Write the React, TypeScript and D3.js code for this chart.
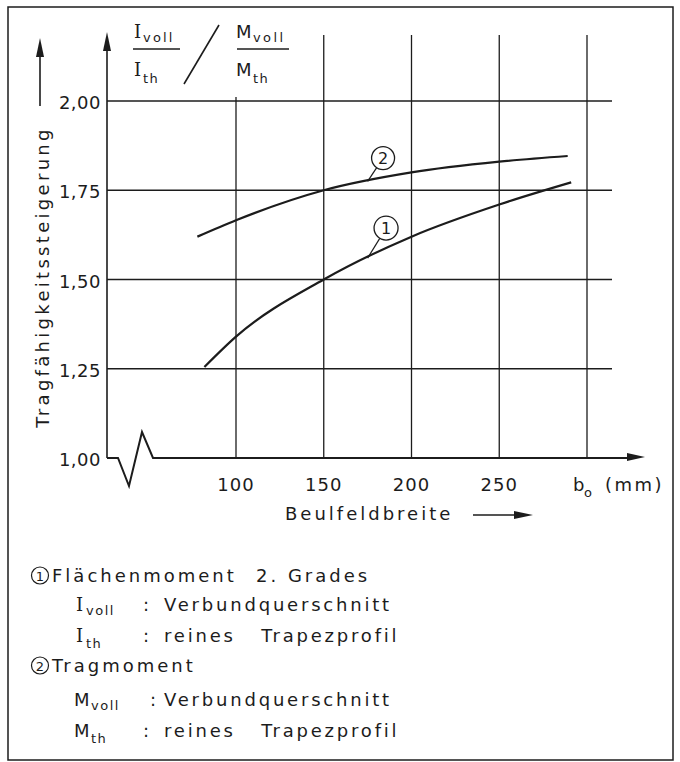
import React from "react";
import * as d3 from "d3";

// ---- data ----
const xTickValues = [100, 150, 200, 250];
const xTickLabels = ["100", "150", "200", "250"];
const xGridValues = [100, 150, 200, 250, 300];
const yTickValues = [1.0, 1.25, 1.5, 1.75, 2.0];
const yTickLabels = ["1,00", "1,25", "1,50", "1,75", "2,00"];
const yGridValues = [1.25, 1.5, 1.75, 2.0];

// curve 1: Flächenmoment 2. Grades (I_voll / I_th)
const curve1Bo = [82, 100, 150, 200, 250, 291];
const curve1Val = [1.255, 1.34, 1.5, 1.62, 1.71, 1.772];
// curve 2: Tragmoment (M_voll / M_th)
const curve2Bo = [78, 100, 150, 200, 250, 289];
const curve2Val = [1.62, 1.666, 1.75, 1.8, 1.83, 1.846];

const seriesNames = ["1", "2"];
const legendTitles = ["Flächenmoment", "Tragmoment"];
const legendSymbols = ["I", "M"];
const legendSubs = ["voll", "th"];
const legendDescs = ["Verbundquerschnitt", "reines   Trapezprofil"];

const FONT = "'DejaVu Sans', sans-serif";
const SERIF = "'DejaVu Serif', serif";
const INK = "#1c1c1c";

function interp(bo: number[], val: number[], b: number) {
  return d3.scaleLinear().domain(bo).range(val).clamp(true)(b);
}

export default function App() {
  const x = d3.scaleLinear().domain([100, 300]).range([236, 587]);
  const y = d3.scaleLinear().domain([1, 2]).range([458, 101]);
  const axisX = 107;
  const gridRight = 612;

  const line = d3
    .line<[number, number]>()
    .x((d) => x(d[0]))
    .y((d) => y(d[1]))
    .curve(d3.curveMonotoneX);

  const c1 = curve1Bo.map((b, i) => [b, curve1Val[i]] as [number, number]);
  const c2 = curve2Bo.map((b, i) => [b, curve2Val[i]] as [number, number]);

  // curve labels (circle centres in data coords, leader target on curve)
  const labels = [
    { name: seriesNames[0], cx: x(185.5), cy: y(1.644), r: 12, tb: 175, bo: curve1Bo, val: curve1Val },
    { name: seriesNames[1], cx: x(183.8), cy: y(1.84), r: 11.5, tb: 175, bo: curve2Bo, val: curve2Val },
  ];

  const y0 = y(1);
  const breakPath = `M${axisX},${y0} L118,${y0} L129,${y0 + 28} L142,${y0 - 26} L153,${y0} L630,${y0}`;

  const legendBase = [582, 611, 642, 672, 706, 737];

  return (
    <svg
      width={680}
      height={762}
      style={{ position: "absolute", left: 0, top: 0, background: "#fff" }}
      fontFamily={FONT}
      fill={INK}
    >
      <rect x={0} y={0} width={680} height={762} fill="#fff" />
      {/* frame */}
      <rect x={8} y={7} width={665} height={753} fill="none" stroke={INK} strokeWidth={1.5} />

      {/* horizontal grid */}
      {yGridValues.map((v) => (
        <line key={"h" + v} x1={axisX} x2={gridRight} y1={y(v)} y2={y(v)} stroke={INK} strokeWidth={1.3} />
      ))}
      {/* vertical grid */}
      {xGridValues.map((v, i) => (
        <line
          key={"v" + v}
          x1={x(v)}
          x2={x(v)}
          y1={i === 0 ? y(2) - 4 : 35}
          y2={y0}
          stroke={INK}
          strokeWidth={1.3}
        />
      ))}

      {/* y axis with arrow */}
      <line x1={axisX} x2={axisX} y1={y0} y2={48} stroke={INK} strokeWidth={1.6} />
      <path d={`M${axisX},32 L${axisX - 4},51 L${axisX + 4},51 Z`} fill={INK} />
      {/* x axis with break and arrow */}
      <path d={breakPath} fill="none" stroke={INK} strokeWidth={2} strokeLinejoin="miter" />
      <path d={`M645,${y0 - 1} L627,${y0 - 5} L627,${y0 + 3} Z`} fill={INK} />

      {/* y tick labels */}
      {yTickValues.map((v, i) => (
        <text key={"yl" + v} x={101} y={y(v) + 8} fontSize={18} textAnchor="end" letterSpacing={0.5}>
          {yTickLabels[i]}
        </text>
      ))}
      {/* x tick labels */}
      {xTickValues.map((v, i) => (
        <text key={"xl" + v} x={x(v)} y={491} fontSize={18} textAnchor="middle" letterSpacing={1}>
          {xTickLabels[i]}
        </text>
      ))}
      <text x={573} y={491} fontSize={18}>
        b
      </text>
      <text x={584} y={497} fontSize={13}>
        o
      </text>
      <text x={605} y={491} fontSize={18} letterSpacing={2.5}>
        (mm)
      </text>

      {/* x title */}
      <text x={285} y={520} fontSize={18} letterSpacing={3}>
        Beulfeldbreite
      </text>
      <line x1={473} x2={516} y1={515} y2={515} stroke={INK} strokeWidth={1.6} />
      <path d="M533,515 L514,511 L514,519 Z" fill={INK} />

      {/* y title */}
      <text transform="translate(49,277) rotate(-90)" fontSize={18} letterSpacing={3.3} textAnchor="middle">
        Tragfähigkeitssteigerung
      </text>
      <line x1={40} x2={40} y1={54} y2={106} stroke={INK} strokeWidth={1.6} />
      <path d="M40,38 L36,57 L44,57 Z" fill={INK} />

      {/* fraction labels */}
      <text x={134} y={38} fontSize={18} fontFamily={SERIF}>I</text>
      <text x={143} y={42} fontSize={13} letterSpacing={2.2}>voll</text>
      <line x1={133} x2={180} y1={49} y2={49} stroke={INK} strokeWidth={1.6} />
      <text x={134} y={76} fontSize={18} fontFamily={SERIF}>I</text>
      <text x={143} y={83} fontSize={13} letterSpacing={1.5}>th</text>
      <line x1={184} x2={219} y1={84} y2={25} stroke={INK} strokeWidth={1.6} />
      <text x={236} y={38} fontSize={18}>M</text>
      <text x={253} y={42} fontSize={13} letterSpacing={2.4}>voll</text>
      <line x1={237} x2={289} y1={49} y2={49} stroke={INK} strokeWidth={1.6} />
      <text x={236} y={76} fontSize={18}>M</text>
      <text x={253} y={83} fontSize={13} letterSpacing={1.5}>th</text>

      {/* curves */}
      <path d={line(c1) || ""} fill="none" stroke={INK} strokeWidth={2.2} />
      <path d={line(c2) || ""} fill="none" stroke={INK} strokeWidth={2.2} />

      {/* curve labels */}
      {labels.map((l) => {
        const tx = x(l.tb);
        const ty = y(interp(l.bo, l.val, l.tb));
        const dx = tx - l.cx;
        const dy = ty - l.cy;
        const len = Math.hypot(dx, dy);
        return (
          <g key={"lab" + l.name}>
            <circle cx={l.cx} cy={l.cy} r={l.r} fill="#fff" stroke={INK} strokeWidth={1.3} />
            <text x={l.cx} y={l.cy + 5.5} fontSize={16} textAnchor="middle">
              {l.name}
            </text>
            <line
              x1={l.cx + (dx / len) * l.r}
              y1={l.cy + (dy / len) * l.r}
              x2={tx}
              y2={ty}
              stroke={INK}
              strokeWidth={1.2}
            />
          </g>
        );
      })}

      {/* legend */}
      {[0, 1].map((k) => {
        const b0 = legendBase[k * 3];
        const b1 = legendBase[k * 3 + 1];
        const b2 = legendBase[k * 3 + 2];
        return (
          <g key={"leg" + k}>
            <circle cx={40} cy={b0 - 6.5} r={8.5} fill="none" stroke={INK} strokeWidth={1.2} />
            <text x={40} y={b0 - 1.5} fontSize={13} textAnchor="middle">
              {seriesNames[k]}
            </text>
            <text x={52} y={b0} fontSize={18} letterSpacing={3}>
              {legendTitles[k]}
            </text>
            {k === 0 && (
              <text x={256} y={b0} fontSize={18} letterSpacing={3}>
                2. Grades
              </text>
            )}
            {[b1, b2].map((bb, j) => (
              <g key={"row" + j}>
                <text
                  x={k === 0 ? 76 : 74}
                  y={bb}
                  fontSize={18}
                  fontFamily={k === 0 ? SERIF : FONT}
                >
                  {legendSymbols[k]}
                </text>
                <text x={k === 0 ? 86 : 91} y={bb + (j === 0 ? 4 : 6)} fontSize={13} letterSpacing={1.5}>
                  {legendSubs[j]}
                </text>
                <text x={k === 1 && j === 0 ? 150 : 143} y={bb} fontSize={18}>
                  :
                </text>
                <text x={164} y={bb} fontSize={18} letterSpacing={2.8} style={{ whiteSpace: "pre" }}>
                  {legendDescs[j]}
                </text>
              </g>
            ))}
          </g>
        );
      })}
    </svg>
  );
}
